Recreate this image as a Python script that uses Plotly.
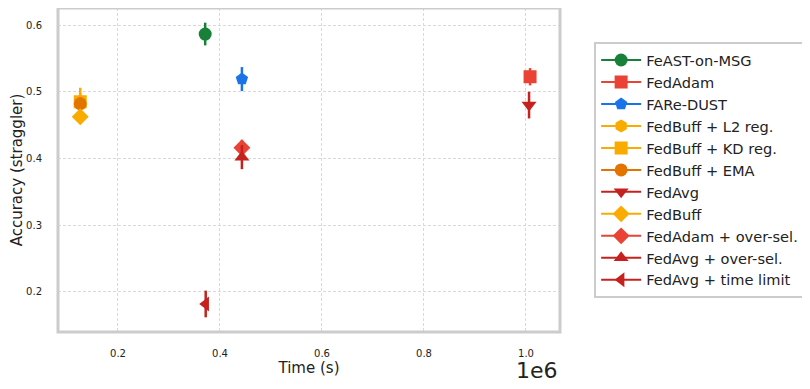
import plotly.graph_objects as go

methods = ['FeAST-on-MSG', 'FedAdam', 'FARe-DUST', 'FedBuff + L2 reg.', 'FedBuff + KD reg.',
           'FedBuff + EMA', 'FedAvg', 'FedBuff', 'FedAdam + over-sel.', 'FedAvg + over-sel.',
           'FedAvg + time limit']
time_s = [371000, 1008000, 443000, 126000, 126000, 126000, 1006000, 126000, 443000, 443000, 372000]
accuracy = [0.5865, 0.5225, 0.519, 0.486, 0.485, 0.482, 0.480, 0.4625, 0.416, 0.402, 0.182]
acc_err = [0.017, 0.013, 0.018, 0.020, 0.012, 0.010, 0.020, 0.010, 0.012, 0.018, 0.020]
colors = ['#188038', '#ea4335', '#1a73e8', '#f9ab00', '#f9ab00', '#e37400', '#c5221f',
          '#f9ab00', '#ea4335', '#c5221f', '#c5221f']
symbols = ['circle', 'square', 'pentagon', 'hexagon', 'square', 'circle', 'triangle-down',
           'diamond', 'diamond', 'triangle-up', 'triangle-left']

x_ticks = [200000, 400000, 600000, 800000, 1000000]
x_tick_labels = ['0.2', '0.4', '0.6', '0.8', '1.0']
y_ticks = [0.2, 0.3, 0.4, 0.5, 0.6]

fig = go.Figure()
for name, x, y, e, c, s in zip(methods, time_s, accuracy, acc_err, colors, symbols):
  fig.add_trace(go.Scatter(
    x=[x], y=[y], name=name, mode='lines+markers',
    marker=dict(color=c, symbol=s, size=13),
    line=dict(color=c, width=2),
    error_y=dict(type='data', array=[e], color=c, thickness=2.5, width=0),
  ))

# page body has an 8px margin, so the figure is a bit smaller than the window
fig.update_layout(
  width=802, height=381,
  margin=dict(l=50, r=250, t=0, b=57, autoexpand=False),
  paper_bgcolor='white', plot_bgcolor='white',
  font=dict(family='DejaVu Sans', color='#222'),
  legend=dict(x=1.068, xanchor='left', y=0.5, yanchor='middle',
              font=dict(size=14.6, color='#222'),
              bordercolor='#cccccc', borderwidth=2, tracegroupgap=0,
              itemwidth=40),
  shapes=[dict(type='rect', xref='paper', yref='paper', x0=0, y0=0, x1=1, y1=1,
               line=dict(color='#cccccc', width=3))],
  annotations=[dict(text='1e6', xref='paper', yref='paper', x=1.0, y=-0.12,
                    xanchor='right', yanchor='middle', showarrow=False,
                    font=dict(size=22, color='#222'))],
)
fig.update_xaxes(
  range=[82400, 1066700], tickvals=x_ticks, ticktext=x_tick_labels,
  tickfont=dict(size=10), showgrid=True, gridcolor='#d9d9d9', griddash='3px,2px', gridwidth=1,
  zeroline=False, ticks='', ticklabelstandoff=14,
  title=dict(text='Time (s)', font=dict(size=15), standoff=4),
)
fig.update_yaxes(
  range=[0.14, 0.6255], tickvals=y_ticks,
  tickfont=dict(size=10), showgrid=True, gridcolor='#d9d9d9', griddash='3px,2px', gridwidth=1,
  zeroline=False, ticks='', ticklabelstandoff=15,
  title=dict(text='Accuracy (straggler)', font=dict(size=15), standoff=3),
)

fig.write_html('out.html')
